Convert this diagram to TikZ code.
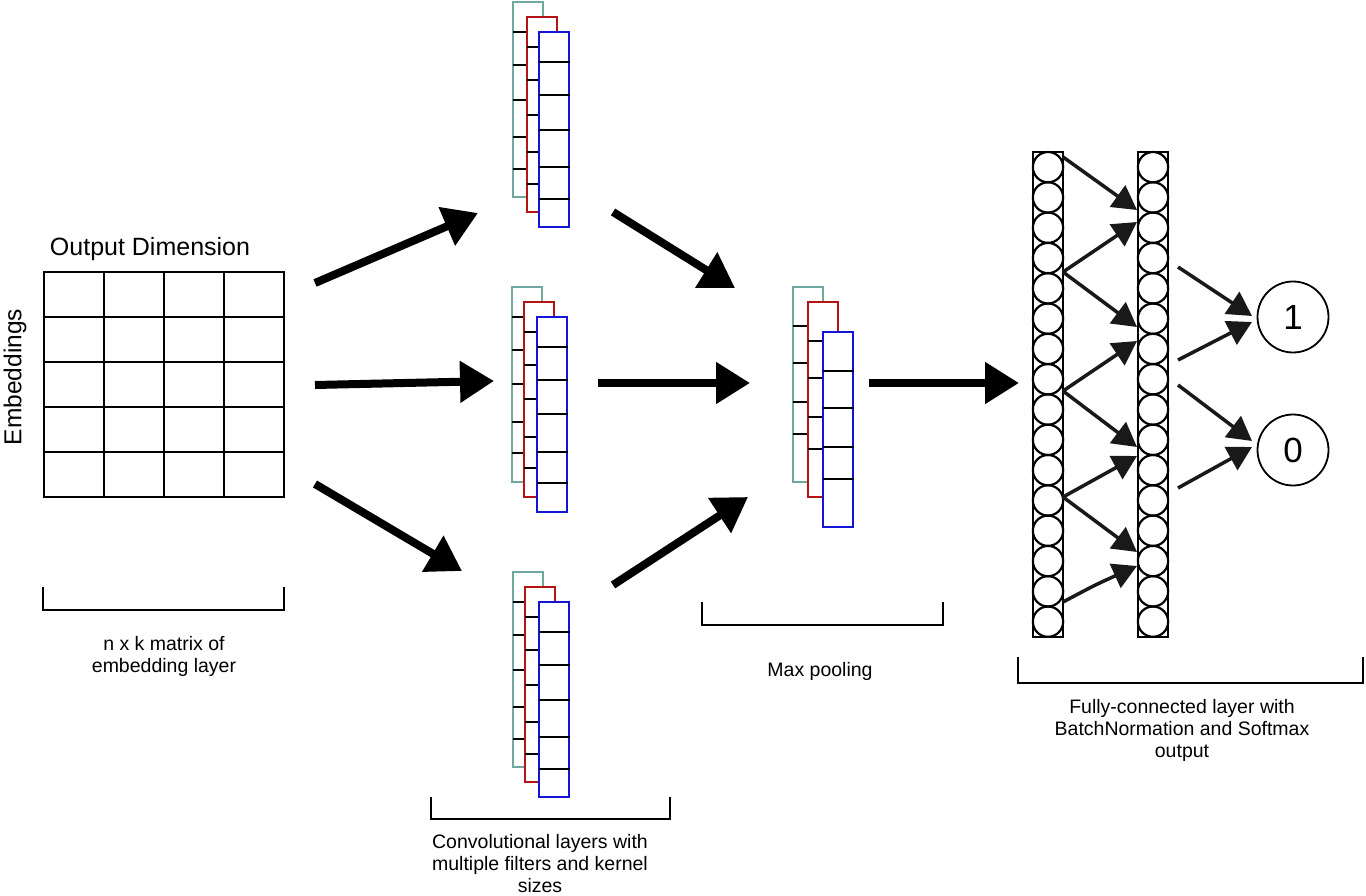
\documentclass[tikz,border=0pt]{standalone}
\usepackage{fontspec}
\setmainfont{Liberation Sans}
\usetikzlibrary{arrows.meta}
\definecolor{tealc}{RGB}{110,168,160}
\definecolor{redc}{RGB}{180,20,20}
\definecolor{bluec}{RGB}{20,20,215}
\tikzset{
  sline/.style={line width=2.7pt},
  tickline/.style={line width=2.2pt,black},
  bigarrow/.style={line width=8pt,-{Triangle[length=34pt,width=40pt]}},
  fcarrow/.style={line width=3.5pt,-{Triangle[length=24pt,width=26pt]},black!90},
  bracketline/.style={line width=2.5pt},
  lbl/.style={font=\fontsize{19.5}{22}\selectfont,align=center},
  neuron/.style={circle,draw,line width=2.2pt,minimum size=30.3pt,inner sep=0pt},
  outnode/.style={circle,draw,line width=1.8pt,minimum size=71pt,inner sep=0pt,font=\fontsize{35}{40}\selectfont},
}
% #1 teal x, #2 teal y, #3 red dx, #4 blue dx, #5 blue dy, #6 tick offsets
\newcommand\fstack[6]{%
  \draw[tealc,sline,fill=white] (#1,#2) rectangle ++(30,195);
  \foreach \t in {#6}{\draw[tickline] (#1,#2+\t) -- (#1+#3,#2+\t);}
  \draw[redc,sline,fill=white] (#1+#3,#2+15) rectangle ++(30,195);
  \foreach \t in {#6}{\draw[tickline] (#1+#3,#2+15+\t) -- (#1+#4,#2+15+\t);}
  \draw[bluec,sline,fill=white] (#1+#4,#2+#5) rectangle ++(30,195);
  \foreach \t in {#6}{\draw[tickline] (#1+#4,#2+#5+\t) -- (#1+#4+31,#2+#5+\t);}
}
\begin{document}
\begin{tikzpicture}[x=1pt,y=-1pt]
\useasboundingbox (0,0) rectangle (1366,896);
\fill[white] (0,0) rectangle (1366,896);

% embedding matrix
\draw[line width=2.6pt] (44,272) rectangle (284,497);
\foreach \x in {104,164,224}{\draw[line width=2.6pt] (\x,272) -- (\x,497);}
\foreach \y in {317,362,407,452}{\draw[line width=2.6pt] (44,\y) -- (284,\y);}
\node[font=\fontsize{25}{29}\selectfont] (outdim) at (150,249) {Output Dimension};
\node[font=\fontsize{24.5}{28}\selectfont,rotate=90] (emb) at (15,377) {Embeddings};

% filter stacks
\fstack{513}{2}{14}{26}{30}{30,63,98,135,167}
\fstack{512}{287}{12}{25}{30}{30,63,97,135,166}
\fstack{513}{572}{12}{26}{30}{30,63,98,135,167}
\fstack{793}{287}{15}{30}{45}{39,76,115,147}

% big arrows
\coordinate (m1) at (315,283); \coordinate (c1) at (478,213);
\coordinate (m2) at (315,385); \coordinate (c2) at (494,381);
\coordinate (m3) at (315,484); \coordinate (c3) at (462,571);
\coordinate (o1) at (613,212); \coordinate (p1) at (735,288);
\coordinate (o2) at (598,383); \coordinate (p2) at (750,383);
\coordinate (o3) at (613,585); \coordinate (p3) at (748,497);
\coordinate (q1) at (869,383); \coordinate (f1) at (1019,383);
\draw[bigarrow] (m1) -- (c1);
\draw[bigarrow] (m2) -- (c2);
\draw[bigarrow] (m3) -- (c3);
\draw[bigarrow] (o1) -- (p1);
\draw[bigarrow] (o2) -- (p2);
\draw[bigarrow] (o3) -- (p3);
\draw[bigarrow] (q1) -- (f1);

% fully connected columns
\draw[line width=2.2pt] (1033,152) rectangle (1063,637);
\draw[line width=2.2pt] (1138,152) rectangle (1168,637);
\foreach \k in {1,...,16}{
  \node[neuron] (l\k) at (1048,{152+(\k-0.5)*30.3}) {};
  \node[neuron] (r\k) at (1153,{152+(\k-0.5)*30.3}) {};
}
\coordinate (s1) at (1063,157);
\coordinate (s2) at (1063,272);
\coordinate (s3) at (1063,391);
\coordinate (s4) at (1063,497);
\coordinate (s5) at (1063,602);
\coordinate (t1) at (1137,210);
\coordinate (t2) at (1137,222);
\coordinate (t3) at (1137,327);
\coordinate (t4) at (1137,341);
\coordinate (t5) at (1137,447);
\coordinate (t6) at (1137,456);
\coordinate (t7) at (1137,552);
\coordinate (t8) at (1137,566);
\draw[fcarrow] (s1) -- (t1);
\draw[fcarrow] (s2) -- (t2);
\draw[fcarrow] (s2) -- (t3);
\draw[fcarrow] (s3) -- (t4);
\draw[fcarrow] (s3) -- (t5);
\draw[fcarrow] (s4) -- (t6);
\draw[fcarrow] (s4) -- (t7);
\draw[fcarrow] (s5) .. controls (1095,585) .. (t8);

% output nodes
\node[outnode] (one) at (1293,317) {1};
\node[outnode] (zero) at (1293,450) {0};
\coordinate (u1) at (1178,267);
\coordinate (u2) at (1178,360);
\coordinate (u3) at (1178,385);
\coordinate (u4) at (1178,488);
\coordinate (v1) at (1252,316);
\coordinate (v2) at (1252,322);
\coordinate (v3) at (1252,441);
\coordinate (v4) at (1252,447);
\draw[fcarrow] (u1) -- (v1);
\draw[fcarrow] (u2) -- (v2);
\draw[fcarrow] (u3) -- (v3);
\draw[fcarrow] (u4) -- (v4);

% brackets
\draw[bracketline] (43,587) -- (43,610) -- (284,610) -- (284,587);
\draw[bracketline] (431,797) -- (431,819) -- (670,819) -- (670,797);
\draw[bracketline] (702,602) -- (702,625) -- (943,625) -- (943,602);
\draw[bracketline] (1018,657) -- (1018,683) -- (1363,683) -- (1363,657);

% labels
\node[lbl] (lab1) at (164,656) {n x k matrix of\\embedding layer};
\node[lbl] (lab2) at (540,864) {Convolutional layers with\\multiple filters and kernel\\sizes};
\node[lbl] (lab3) at (820,671) {Max pooling};
\node[lbl] (lab4) at (1182,730) {Fully-connected layer with\\BatchNormation and Softmax\\output};
\end{tikzpicture}
\end{document}
